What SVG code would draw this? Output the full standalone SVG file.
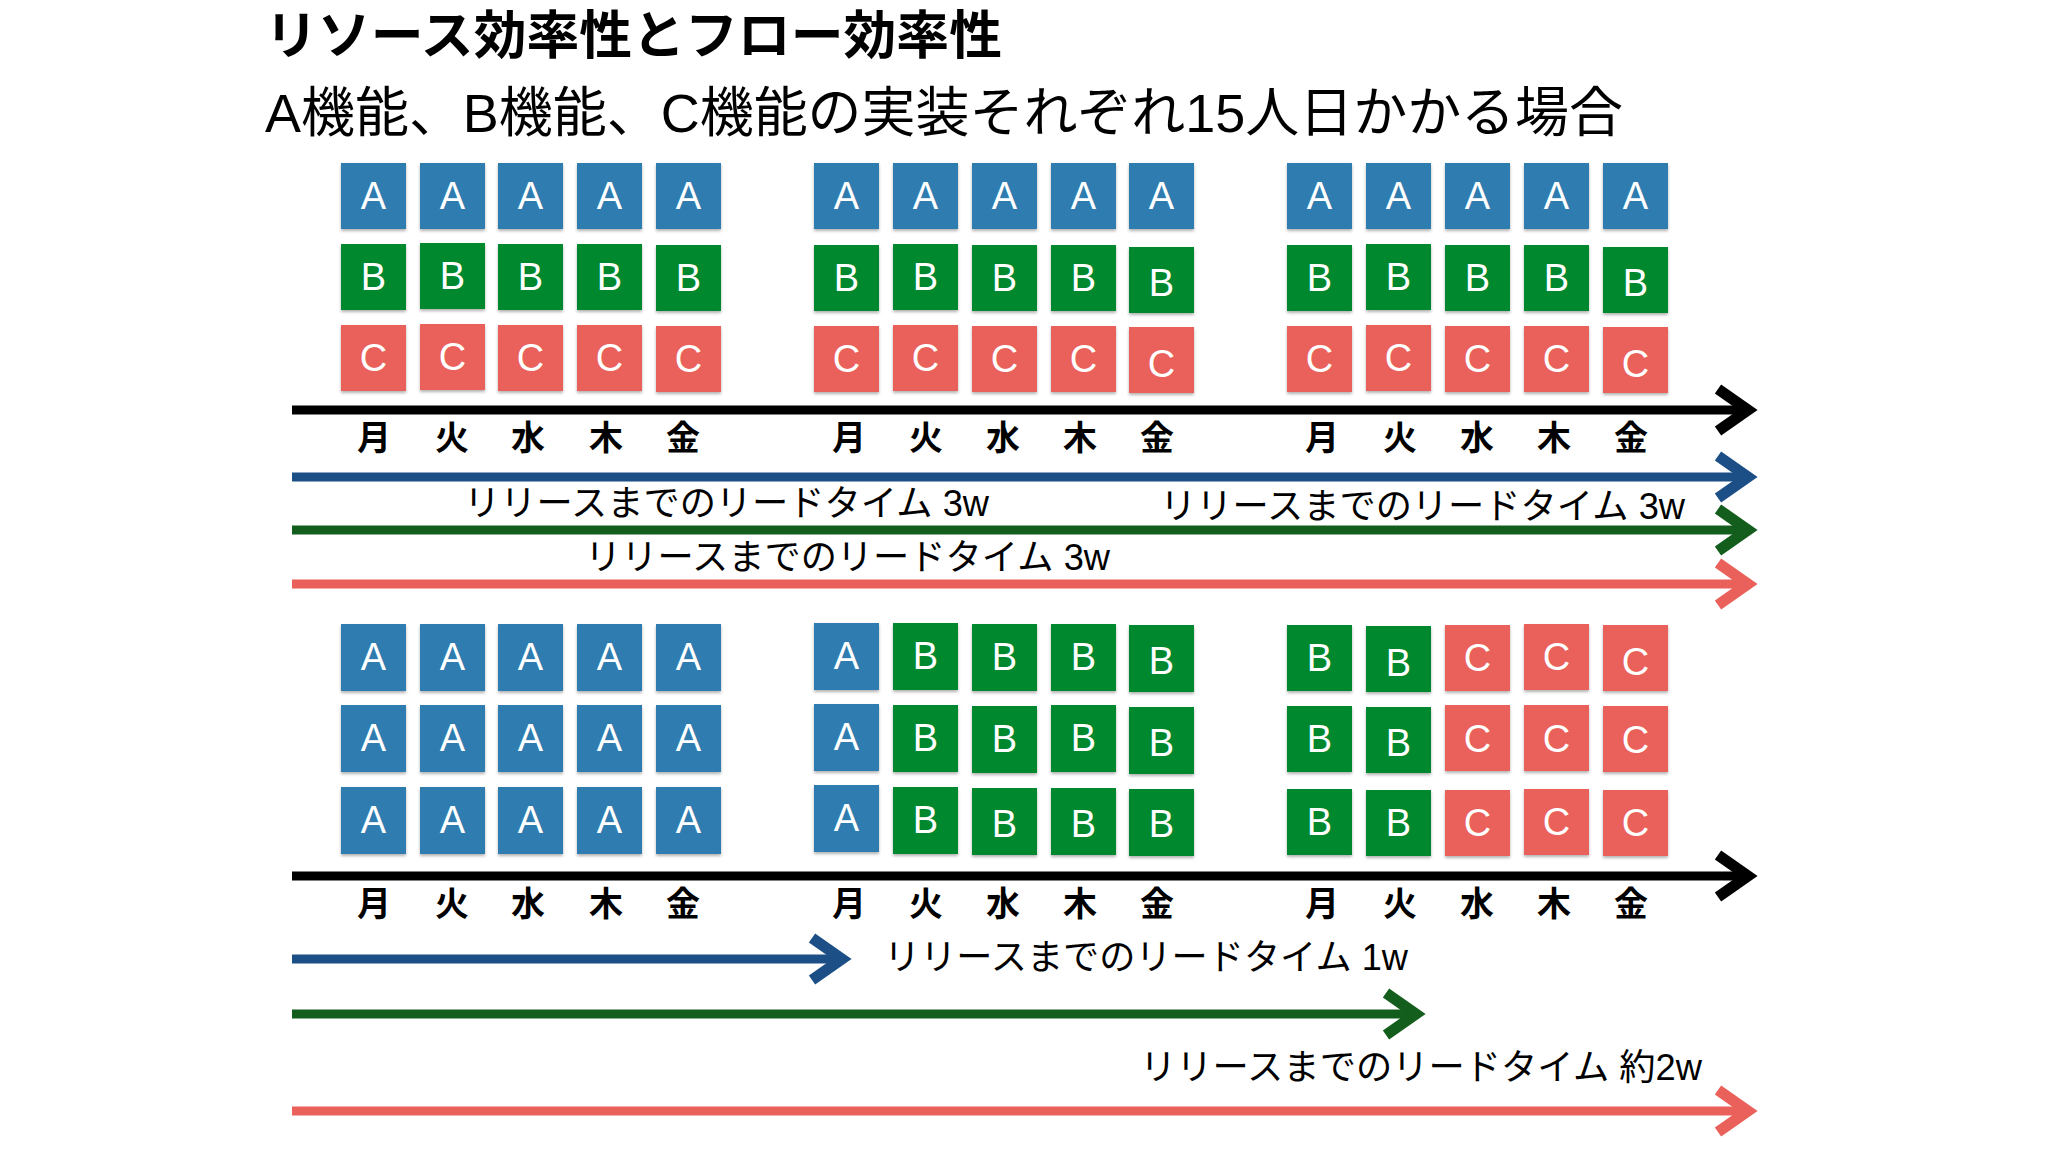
<svg xmlns="http://www.w3.org/2000/svg" width="2048" height="1152" viewBox="0 0 2048 1152">
<defs>
<filter id="sh" x="-10%" y="-10%" width="120%" height="130%"><feDropShadow dx="0" dy="2" stdDeviation="1.5" flood-color="#000" flood-opacity="0.3"/></filter>
<marker id="mk-black" markerUnits="userSpaceOnUse" markerWidth="60" markerHeight="60" viewBox="0 0 60 60" refX="40" refY="30" orient="auto" overflow="visible"><path d="M10 9 L40 30 L10 51" fill="none" stroke="#000" stroke-width="11"/></marker>
<marker id="mk-blue" markerUnits="userSpaceOnUse" markerWidth="60" markerHeight="60" viewBox="0 0 60 60" refX="40" refY="30" orient="auto" overflow="visible"><path d="M10 9 L40 30 L10 51" fill="none" stroke="#1B4F86" stroke-width="11"/></marker>
<marker id="mk-green" markerUnits="userSpaceOnUse" markerWidth="60" markerHeight="60" viewBox="0 0 60 60" refX="40" refY="30" orient="auto" overflow="visible"><path d="M10 9 L40 30 L10 51" fill="none" stroke="#135E1C" stroke-width="11"/></marker>
<marker id="mk-red" markerUnits="userSpaceOnUse" markerWidth="60" markerHeight="60" viewBox="0 0 60 60" refX="40" refY="30" orient="auto" overflow="visible"><path d="M10 9 L40 30 L10 51" fill="none" stroke="#EA605A" stroke-width="11"/></marker>
</defs>
<style>
.A{fill:#2E7BB0}.B{fill:#04882F}.C{fill:#EA605A}
.box rect{filter:url(#sh)}
.box text{font-family:"Liberation Sans",Arial,sans-serif;font-size:38px;fill:#fff;text-anchor:middle}
.day{font-family:"Noto Sans CJK JP",sans-serif;font-weight:700;font-size:34px;text-anchor:middle;fill:#000}
.lbl{font-family:"Liberation Sans","Noto Sans CJK JP",sans-serif;font-size:36px;fill:#000}
.ttl{font-family:"Liberation Sans","Noto Sans CJK JP",sans-serif;font-weight:700;font-size:52px;fill:#000}
.sub{font-family:"Liberation Sans","Noto Sans CJK JP",sans-serif;font-size:54px;fill:#000}
.ln{fill:none;stroke-width:9}
</style>
<rect width="2048" height="1152" fill="#fff"/>
<text class="ttl" x="265" y="54" textLength="737" lengthAdjust="spacingAndGlyphs">リソース効率性とフロー効率性</text>
<text class="sub" x="265" y="132" textLength="1358" lengthAdjust="spacingAndGlyphs">A機能、B機能、C機能の実装それぞれ15人日かかる場合</text>

<g id="top-boxes">
<g id="t1-A1" class="box" transform="translate(341,163)"><rect class="A" width="65" height="66"/><text x="32.5" y="46">A</text></g>
<g id="t1-A2" class="box" transform="translate(420,163)"><rect class="A" width="65" height="66"/><text x="32.5" y="46">A</text></g>
<g id="t1-A3" class="box" transform="translate(498,163)"><rect class="A" width="65" height="66"/><text x="32.5" y="46">A</text></g>
<g id="t1-A4" class="box" transform="translate(577,163)"><rect class="A" width="65" height="66"/><text x="32.5" y="46">A</text></g>
<g id="t1-A5" class="box" transform="translate(656,163)"><rect class="A" width="65" height="66"/><text x="32.5" y="46">A</text></g>
<g id="t1-B1" class="box" transform="translate(341,244)"><rect class="B" width="65" height="66"/><text x="32.5" y="46">B</text></g>
<g id="t1-B2" class="box" transform="translate(420,243)"><rect class="B" width="65" height="66"/><text x="32.5" y="46">B</text></g>
<g id="t1-B3" class="box" transform="translate(498,244)"><rect class="B" width="65" height="66"/><text x="32.5" y="46">B</text></g>
<g id="t1-B4" class="box" transform="translate(577,244)"><rect class="B" width="65" height="66"/><text x="32.5" y="46">B</text></g>
<g id="t1-B5" class="box" transform="translate(656,245)"><rect class="B" width="65" height="66"/><text x="32.5" y="46">B</text></g>
<g id="t1-C1" class="box" transform="translate(341,325)"><rect class="C" width="65" height="66"/><text x="32.5" y="46">C</text></g>
<g id="t1-C2" class="box" transform="translate(420,324)"><rect class="C" width="65" height="66"/><text x="32.5" y="46">C</text></g>
<g id="t1-C3" class="box" transform="translate(498,325)"><rect class="C" width="65" height="66"/><text x="32.5" y="46">C</text></g>
<g id="t1-C4" class="box" transform="translate(577,325)"><rect class="C" width="65" height="66"/><text x="32.5" y="46">C</text></g>
<g id="t1-C5" class="box" transform="translate(656,326)"><rect class="C" width="65" height="66"/><text x="32.5" y="46">C</text></g>

<g id="t2-A1" class="box" transform="translate(814,163)"><rect class="A" width="65" height="66"/><text x="32.5" y="46">A</text></g>
<g id="t2-A2" class="box" transform="translate(893,163)"><rect class="A" width="65" height="66"/><text x="32.5" y="46">A</text></g>
<g id="t2-A3" class="box" transform="translate(972,163)"><rect class="A" width="65" height="66"/><text x="32.5" y="46">A</text></g>
<g id="t2-A4" class="box" transform="translate(1051,163)"><rect class="A" width="65" height="66"/><text x="32.5" y="46">A</text></g>
<g id="t2-A5" class="box" transform="translate(1129,163)"><rect class="A" width="65" height="66"/><text x="32.5" y="46">A</text></g>
<g id="t2-B1" class="box" transform="translate(814,245)"><rect class="B" width="65" height="66"/><text x="32.5" y="46">B</text></g>
<g id="t2-B2" class="box" transform="translate(893,244)"><rect class="B" width="65" height="66"/><text x="32.5" y="46">B</text></g>
<g id="t2-B3" class="box" transform="translate(972,245)"><rect class="B" width="65" height="66"/><text x="32.5" y="46">B</text></g>
<g id="t2-B4" class="box" transform="translate(1051,245)"><rect class="B" width="65" height="66"/><text x="32.5" y="46">B</text></g>
<g id="t2-B5" class="box" transform="translate(1129,247)"><rect class="B" width="65" height="66"/><text x="32.5" y="49">B</text></g>
<g id="t2-C1" class="box" transform="translate(814,326)"><rect class="C" width="65" height="66"/><text x="32.5" y="46">C</text></g>
<g id="t2-C2" class="box" transform="translate(893,325)"><rect class="C" width="65" height="66"/><text x="32.5" y="46">C</text></g>
<g id="t2-C3" class="box" transform="translate(972,326)"><rect class="C" width="65" height="66"/><text x="32.5" y="46">C</text></g>
<g id="t2-C4" class="box" transform="translate(1051,326)"><rect class="C" width="65" height="66"/><text x="32.5" y="46">C</text></g>
<g id="t2-C5" class="box" transform="translate(1129,327)"><rect class="C" width="65" height="66"/><text x="32.5" y="50">C</text></g>

<g id="t3-A1" class="box" transform="translate(1287,163)"><rect class="A" width="65" height="66"/><text x="32.5" y="46">A</text></g>
<g id="t3-A2" class="box" transform="translate(1366,163)"><rect class="A" width="65" height="66"/><text x="32.5" y="46">A</text></g>
<g id="t3-A3" class="box" transform="translate(1445,163)"><rect class="A" width="65" height="66"/><text x="32.5" y="46">A</text></g>
<g id="t3-A4" class="box" transform="translate(1524,163)"><rect class="A" width="65" height="66"/><text x="32.5" y="46">A</text></g>
<g id="t3-A5" class="box" transform="translate(1603,163)"><rect class="A" width="65" height="66"/><text x="32.5" y="46">A</text></g>
<g id="t3-B1" class="box" transform="translate(1287,245)"><rect class="B" width="65" height="66"/><text x="32.5" y="46">B</text></g>
<g id="t3-B2" class="box" transform="translate(1366,244)"><rect class="B" width="65" height="66"/><text x="32.5" y="46">B</text></g>
<g id="t3-B3" class="box" transform="translate(1445,245)"><rect class="B" width="65" height="66"/><text x="32.5" y="46">B</text></g>
<g id="t3-B4" class="box" transform="translate(1524,245)"><rect class="B" width="65" height="66"/><text x="32.5" y="46">B</text></g>
<g id="t3-B5" class="box" transform="translate(1603,247)"><rect class="B" width="65" height="66"/><text x="32.5" y="49">B</text></g>
<g id="t3-C1" class="box" transform="translate(1287,326)"><rect class="C" width="65" height="66"/><text x="32.5" y="46">C</text></g>
<g id="t3-C2" class="box" transform="translate(1366,325)"><rect class="C" width="65" height="66"/><text x="32.5" y="46">C</text></g>
<g id="t3-C3" class="box" transform="translate(1445,326)"><rect class="C" width="65" height="66"/><text x="32.5" y="46">C</text></g>
<g id="t3-C4" class="box" transform="translate(1524,326)"><rect class="C" width="65" height="66"/><text x="32.5" y="46">C</text></g>
<g id="t3-C5" class="box" transform="translate(1603,327)"><rect class="C" width="65" height="66"/><text x="32.5" y="50">C</text></g>
</g>

<g id="bottom-boxes">
<g id="b1-r1-1" class="box" transform="translate(341,624)"><rect class="A" width="65" height="67"/><text x="32.5" y="46">A</text></g>
<g id="b1-r1-2" class="box" transform="translate(420,624)"><rect class="A" width="65" height="67"/><text x="32.5" y="46">A</text></g>
<g id="b1-r1-3" class="box" transform="translate(498,624)"><rect class="A" width="65" height="67"/><text x="32.5" y="46">A</text></g>
<g id="b1-r1-4" class="box" transform="translate(577,624)"><rect class="A" width="65" height="67"/><text x="32.5" y="46">A</text></g>
<g id="b1-r1-5" class="box" transform="translate(656,624)"><rect class="A" width="65" height="67"/><text x="32.5" y="46">A</text></g>
<g id="b1-r2-1" class="box" transform="translate(341,705)"><rect class="A" width="65" height="67"/><text x="32.5" y="46">A</text></g>
<g id="b1-r2-2" class="box" transform="translate(420,705)"><rect class="A" width="65" height="67"/><text x="32.5" y="46">A</text></g>
<g id="b1-r2-3" class="box" transform="translate(498,705)"><rect class="A" width="65" height="67"/><text x="32.5" y="46">A</text></g>
<g id="b1-r2-4" class="box" transform="translate(577,705)"><rect class="A" width="65" height="67"/><text x="32.5" y="46">A</text></g>
<g id="b1-r2-5" class="box" transform="translate(656,705)"><rect class="A" width="65" height="67"/><text x="32.5" y="46">A</text></g>
<g id="b1-r3-1" class="box" transform="translate(341,787)"><rect class="A" width="65" height="67"/><text x="32.5" y="46">A</text></g>
<g id="b1-r3-2" class="box" transform="translate(420,787)"><rect class="A" width="65" height="67"/><text x="32.5" y="46">A</text></g>
<g id="b1-r3-3" class="box" transform="translate(498,787)"><rect class="A" width="65" height="67"/><text x="32.5" y="46">A</text></g>
<g id="b1-r3-4" class="box" transform="translate(577,787)"><rect class="A" width="65" height="67"/><text x="32.5" y="46">A</text></g>
<g id="b1-r3-5" class="box" transform="translate(656,787)"><rect class="A" width="65" height="67"/><text x="32.5" y="46">A</text></g>

<g id="b2-r1-1" class="box" transform="translate(814,623)"><rect class="A" width="65" height="67"/><text x="32.5" y="46">A</text></g>
<g id="b2-r1-2" class="box" transform="translate(893,623)"><rect class="B" width="65" height="67"/><text x="32.5" y="46">B</text></g>
<g id="b2-r1-3" class="box" transform="translate(972,624)"><rect class="B" width="65" height="67"/><text x="32.5" y="46">B</text></g>
<g id="b2-r1-4" class="box" transform="translate(1051,624)"><rect class="B" width="65" height="67"/><text x="32.5" y="46">B</text></g>
<g id="b2-r1-5" class="box" transform="translate(1129,625)"><rect class="B" width="65" height="67"/><text x="32.5" y="49">B</text></g>
<g id="b2-r2-1" class="box" transform="translate(814,704)"><rect class="A" width="65" height="67"/><text x="32.5" y="46">A</text></g>
<g id="b2-r2-2" class="box" transform="translate(893,705)"><rect class="B" width="65" height="67"/><text x="32.5" y="46">B</text></g>
<g id="b2-r2-3" class="box" transform="translate(972,706)"><rect class="B" width="65" height="67"/><text x="32.5" y="46">B</text></g>
<g id="b2-r2-4" class="box" transform="translate(1051,705)"><rect class="B" width="65" height="67"/><text x="32.5" y="46">B</text></g>
<g id="b2-r2-5" class="box" transform="translate(1129,707)"><rect class="B" width="65" height="67"/><text x="32.5" y="49">B</text></g>
<g id="b2-r3-1" class="box" transform="translate(814,785)"><rect class="A" width="65" height="67"/><text x="32.5" y="46">A</text></g>
<g id="b2-r3-2" class="box" transform="translate(893,787)"><rect class="B" width="65" height="67"/><text x="32.5" y="46">B</text></g>
<g id="b2-r3-3" class="box" transform="translate(972,788)"><rect class="B" width="65" height="67"/><text x="32.5" y="49">B</text></g>
<g id="b2-r3-4" class="box" transform="translate(1051,788)"><rect class="B" width="65" height="67"/><text x="32.5" y="49">B</text></g>
<g id="b2-r3-5" class="box" transform="translate(1129,789)"><rect class="B" width="65" height="67"/><text x="32.5" y="48">B</text></g>

<g id="b3-r1-1" class="box" transform="translate(1287,625)"><rect class="B" width="65" height="66"/><text x="32.5" y="46">B</text></g>
<g id="b3-r1-2" class="box" transform="translate(1366,626)"><rect class="B" width="65" height="66"/><text x="32.5" y="50">B</text></g>
<g id="b3-r1-3" class="box" transform="translate(1445,625)"><rect class="C" width="65" height="66"/><text x="32.5" y="46">C</text></g>
<g id="b3-r1-4" class="box" transform="translate(1524,624)"><rect class="C" width="65" height="66"/><text x="32.5" y="46">C</text></g>
<g id="b3-r1-5" class="box" transform="translate(1603,625)"><rect class="C" width="65" height="66"/><text x="32.5" y="50">C</text></g>
<g id="b3-r2-1" class="box" transform="translate(1287,706)"><rect class="B" width="65" height="66"/><text x="32.5" y="46">B</text></g>
<g id="b3-r2-2" class="box" transform="translate(1366,707)"><rect class="B" width="65" height="66"/><text x="32.5" y="49">B</text></g>
<g id="b3-r2-3" class="box" transform="translate(1445,705)"><rect class="C" width="65" height="66"/><text x="32.5" y="47">C</text></g>
<g id="b3-r2-4" class="box" transform="translate(1524,705)"><rect class="C" width="65" height="66"/><text x="32.5" y="47">C</text></g>
<g id="b3-r2-5" class="box" transform="translate(1603,706)"><rect class="C" width="65" height="66"/><text x="32.5" y="47">C</text></g>
<g id="b3-r3-1" class="box" transform="translate(1287,789)"><rect class="B" width="65" height="66"/><text x="32.5" y="46">B</text></g>
<g id="b3-r3-2" class="box" transform="translate(1366,790)"><rect class="B" width="65" height="66"/><text x="32.5" y="46">B</text></g>
<g id="b3-r3-3" class="box" transform="translate(1445,790)"><rect class="C" width="65" height="66"/><text x="32.5" y="46">C</text></g>
<g id="b3-r3-4" class="box" transform="translate(1524,789)"><rect class="C" width="65" height="66"/><text x="32.5" y="46">C</text></g>
<g id="b3-r3-5" class="box" transform="translate(1603,790)"><rect class="C" width="65" height="66"/><text x="32.5" y="46">C</text></g>
</g>

<g id="connectors">
<line class="ln" x1="292" y1="410" x2="1748" y2="410" stroke="#000" stroke-width="10" marker-end="url(#mk-black)"/>
<line class="ln" x1="292" y1="477" x2="1748" y2="477" stroke="#1B4F86" marker-end="url(#mk-blue)"/>
<line class="ln" x1="292" y1="530" x2="1748" y2="530" stroke="#135E1C" marker-end="url(#mk-green)"/>
<line class="ln" x1="292" y1="584" x2="1748" y2="584" stroke="#EA605A" marker-end="url(#mk-red)"/>
<line class="ln" x1="292" y1="876" x2="1748" y2="876" stroke="#000" stroke-width="10" marker-end="url(#mk-black)"/>
<line class="ln" x1="292" y1="959" x2="842" y2="959" stroke="#1B4F86" marker-end="url(#mk-blue)"/>
<line class="ln" x1="292" y1="1014" x2="1416" y2="1014" stroke="#135E1C" marker-end="url(#mk-green)"/>
<line class="ln" x1="292" y1="1111" x2="1748" y2="1111" stroke="#EA605A" marker-end="url(#mk-red)"/>
</g>

<g id="days-top">
<text class="day" x="374" y="450">月</text><text class="day" x="452" y="450">火</text><text class="day" x="528" y="450">水</text><text class="day" x="606" y="450">木</text><text class="day" x="683" y="450">金</text>
<text class="day" x="849" y="450">月</text><text class="day" x="926" y="450">火</text><text class="day" x="1003" y="450">水</text><text class="day" x="1080" y="450">木</text><text class="day" x="1157" y="450">金</text>
<text class="day" x="1322" y="450">月</text><text class="day" x="1400" y="450">火</text><text class="day" x="1477" y="450">水</text><text class="day" x="1554" y="450">木</text><text class="day" x="1631" y="450">金</text>
</g>
<g id="days-bottom">
<text class="day" x="374" y="916">月</text><text class="day" x="452" y="916">火</text><text class="day" x="528" y="916">水</text><text class="day" x="606" y="916">木</text><text class="day" x="683" y="916">金</text>
<text class="day" x="849" y="916">月</text><text class="day" x="926" y="916">火</text><text class="day" x="1003" y="916">水</text><text class="day" x="1080" y="916">木</text><text class="day" x="1157" y="916">金</text>
<text class="day" x="1322" y="916">月</text><text class="day" x="1400" y="916">火</text><text class="day" x="1477" y="916">水</text><text class="day" x="1554" y="916">木</text><text class="day" x="1631" y="916">金</text>
</g>

<g id="labels">
<text class="lbl" x="464" y="516" textLength="525" lengthAdjust="spacingAndGlyphs">リリースまでのリードタイム 3w</text>
<text class="lbl" x="1160" y="519" textLength="525" lengthAdjust="spacingAndGlyphs">リリースまでのリードタイム 3w</text>
<text class="lbl" x="585" y="570" textLength="525" lengthAdjust="spacingAndGlyphs">リリースまでのリードタイム 3w</text>
<text class="lbl" x="884" y="970" textLength="524" lengthAdjust="spacingAndGlyphs">リリースまでのリードタイム 1w</text>
<text class="lbl" x="1140" y="1080" textLength="562" lengthAdjust="spacingAndGlyphs">リリースまでのリードタイム 約2w</text>
</g>
</svg>
